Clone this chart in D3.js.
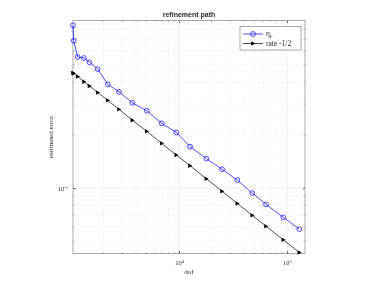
<!DOCTYPE html>
<html>
<head>
<meta charset="utf-8">
<script src="https://cdn.jsdelivr.net/npm/d3@7"></script>
<style>
  body { margin: 0; background: #fff; }
  svg { will-change: transform; }
  svg text { font-family: "Liberation Serif", "DejaVu Serif", serif; fill: #262626; opacity: 0.99; }
  .axis path { display: none; }
  .axis line { stroke: #6e6e6e; shape-rendering: crispEdges; }
  .axis text { font-size: 6.5px; }
</style>
</head>
<body>
<svg id="chart"></svg>
<script>
// degrees of freedom per refinement step
const dof = [1043, 1059, 1153, 1318, 1483, 1767, 2188, 2783, 3697, 5026,
  6921, 9440, 12650, 17910, 25020, 34660, 47640, 63970, 92470, 130000];
// estimator eta_P
const etaP = [0.840, 0.687, 0.555, 0.548, 0.518, 0.474, 0.388, 0.352, 0.305, 0.275,
  0.233, 0.207, 0.172, 0.147, 0.128, 0.111, 0.0937, 0.0808, 0.0682, 0.0585];
// reference slope -1/2
const rate = [0.451, 0.448, 0.430, 0.402, 0.380, 0.349, 0.315, 0.280, 0.243, 0.210,
  0.1795, 0.154, 0.134, 0.113, 0.0959, 0.0818, 0.0700, 0.0607, 0.0508, 0.0431];
const xTicks = [1e4, 1e5];
const yTicks = [0.1];
const seriesNames = ['\u03B7', 'rate -1/2'];

var W = 366, H = 285;
var margin = {top: 20.5, right: 61, bottom: 31.5, left: 73},
    width = W - margin.left - margin.right,
    height = H - margin.top - margin.bottom;

const x = d3.scaleLog().domain([1043, 146800]).range([0, width]);
const y = d3.scaleLog().domain([0.0425, 0.895]).range([height, 0]);

const svg = d3.select('#chart').attr('width', W).attr('height', H);
const chart = svg.append('g').attr('transform', `translate(${margin.left},${margin.top})`);

// minor / major positions
const xMinor = [];
[1e3, 1e4, 1e5].forEach(d => { for (let k = 2; k <= 9; k++) xMinor.push(d * k); });
const xMin = xMinor.filter(v => v > x.domain()[0] && v < x.domain()[1]);
const yMinor = [];
[0.01, 0.1].forEach(d => { for (let k = 2; k <= 9; k++) yMinor.push(d * k); });
const yMin = yMinor.filter(v => v > y.domain()[0] && v < y.domain()[1]);

// grid
const grid = chart.append('g');
grid.selectAll('.gxm').data(xMin).enter().append('line')
  .attr('x1', d => x(d)).attr('x2', d => x(d)).attr('y1', 0).attr('y2', height)
  .attr('stroke', '#d4d4d4').attr('stroke-width', 0.5).attr('stroke-dasharray', '1,1.5');
grid.selectAll('.gym').data(yMin).enter().append('line')
  .attr('y1', d => y(d)).attr('y2', d => y(d)).attr('x1', 0).attr('x2', width)
  .attr('stroke', '#d4d4d4').attr('stroke-width', 0.5).attr('stroke-dasharray', '1,1.5');
grid.selectAll('.gx').data(xTicks).enter().append('line')
  .attr('x1', d => x(d)).attr('x2', d => x(d)).attr('y1', 0).attr('y2', height)
  .attr('stroke', '#e3e3e3').attr('stroke-width', 0.6);
grid.selectAll('.gy').data(yTicks).enter().append('line')
  .attr('y1', d => y(d)).attr('y2', d => y(d)).attr('x1', 0).attr('x2', width)
  .attr('stroke', '#e3e3e3').attr('stroke-width', 0.6);

// axes (ticks inside)
const supFmt = sel => {
  sel.selectAll('text').each(function(d) {
    const t = d3.select(this).text('');
    t.append('tspan').text('10');
    t.append('tspan').attr('dy', '-0.45em').attr('font-size', '4.5px').text(Math.round(Math.log10(d)));
  });
};

const xAxis = d3.axisBottom(x).tickValues(xTicks).tickSizeInner(-2.5).tickSizeOuter(0).tickPadding(7);
const gx = chart.append('g').attr('class', 'x axis').attr('transform', `translate(0,${height})`).call(xAxis);
supFmt(gx);
chart.append('g').attr('class', 'axis')
  .call(d3.axisTop(x).tickValues(xTicks).tickSizeInner(-2.5).tickSizeOuter(0).tickFormat(''));
const minTicks = chart.append('g');
xMin.forEach(v => {
  minTicks.append('line').attr('x1', x(v)).attr('x2', x(v)).attr('y1', height).attr('y2', height - 1.3).attr('stroke', '#6e6e6e').attr('stroke-width', 0.5);
  minTicks.append('line').attr('x1', x(v)).attr('x2', x(v)).attr('y1', 0).attr('y2', 1.3).attr('stroke', '#6e6e6e').attr('stroke-width', 0.5);
});
yMin.forEach(v => {
  minTicks.append('line').attr('y1', y(v)).attr('y2', y(v)).attr('x1', 0).attr('x2', 1.3).attr('stroke', '#6e6e6e').attr('stroke-width', 0.5);
  minTicks.append('line').attr('y1', y(v)).attr('y2', y(v)).attr('x1', width).attr('x2', width - 1.3).attr('stroke', '#6e6e6e').attr('stroke-width', 0.5);
});

const yAxis = d3.axisLeft(y).tickValues(yTicks).tickSizeInner(-2.5).tickSizeOuter(0).tickPadding(5);
const gy = chart.append('g').attr('class', 'y axis').call(yAxis);
supFmt(gy);
chart.append('g').attr('class', 'axis').attr('transform', `translate(${width},0)`)
  .call(d3.axisRight(y).tickValues(yTicks).tickSizeInner(-2.5).tickSizeOuter(0).tickFormat(''));

// box
chart.append('rect').attr('width', width).attr('height', height)
  .attr('fill', 'none').attr('stroke', '#6e6e6e').attr('stroke-width', 0.6);

// series
const line = d3.line().x(d => x(d[0])).y(d => y(d[1]));
const etaData = dof.map((d, i) => [d, etaP[i]]);
const rateData = dof.map((d, i) => [d, rate[i]]);

chart.append('path').datum(rateData).attr('d', line)
  .attr('fill', 'none').attr('stroke', '#000').attr('stroke-width', 0.7);
const tri = 'M-1.8,-2.2L2.4,0L-1.8,2.2Z';
chart.selectAll('.tri').data(rateData).enter().append('path')
  .attr('d', tri).attr('transform', d => `translate(${x(d[0])},${y(d[1])})`)
  .attr('fill', '#000');

chart.append('path').datum(etaData).attr('d', line)
  .attr('fill', 'none').attr('stroke', '#0000ff').attr('stroke-width', 0.7);
chart.selectAll('.circ').data(etaData).enter().append('circle')
  .attr('cx', d => x(d[0])).attr('cy', d => y(d[1])).attr('r', 2.4)
  .attr('fill', 'none').attr('stroke', '#0000ff').attr('stroke-width', 0.7);

// title and labels
svg.append('text').attr('x', margin.left + width / 2).attr('y', 16.5)
  .attr('text-anchor', 'middle').attr('font-size', '7px').attr('font-weight', 'bold')
  .style('font-family', '"Liberation Sans", Arial, sans-serif')
  .text('refinement path');
svg.append('text').attr('x', 189).attr('y', 274)
  .attr('text-anchor', 'middle').attr('font-size', '7px').text('dof');
svg.append('text').attr('transform', 'translate(53,137) rotate(-90)')
  .attr('text-anchor', 'middle').attr('font-size', '7px').text('estimated error');

// legend
const lg = svg.append('g').attr('transform', 'translate(240,26.5)');
lg.append('rect').attr('width', 61).attr('height', 23.5)
  .attr('fill', '#fff').attr('stroke', '#6e6e6e').attr('stroke-width', 0.6);
const e1 = lg.append('g').attr('transform', 'translate(0,7.5)');
e1.append('line').attr('x1', 3).attr('x2', 23).attr('stroke', '#0000ff').attr('stroke-width', 0.7);
e1.append('circle').attr('cx', 13).attr('r', 2.4).attr('fill', 'none').attr('stroke', '#0000ff').attr('stroke-width', 0.7);
const t1 = e1.append('text').attr('x', 26).attr('y', 2.3).attr('font-size', '7.5px');
t1.append('tspan').text(seriesNames[0]);
t1.append('tspan').attr('dy', '1.5').attr('font-size', '4.5px').text('P');
const e2 = lg.append('g').attr('transform', 'translate(0,17)');
e2.append('line').attr('x1', 3).attr('x2', 23).attr('stroke', '#000').attr('stroke-width', 0.7);
e2.append('path').attr('d', tri).attr('transform', 'translate(13,0)').attr('fill', '#000');
e2.append('text').attr('x', 26).attr('y', 2.3).attr('font-size', '7.5px').text(seriesNames[1]);
</script>
</body>
</html>
